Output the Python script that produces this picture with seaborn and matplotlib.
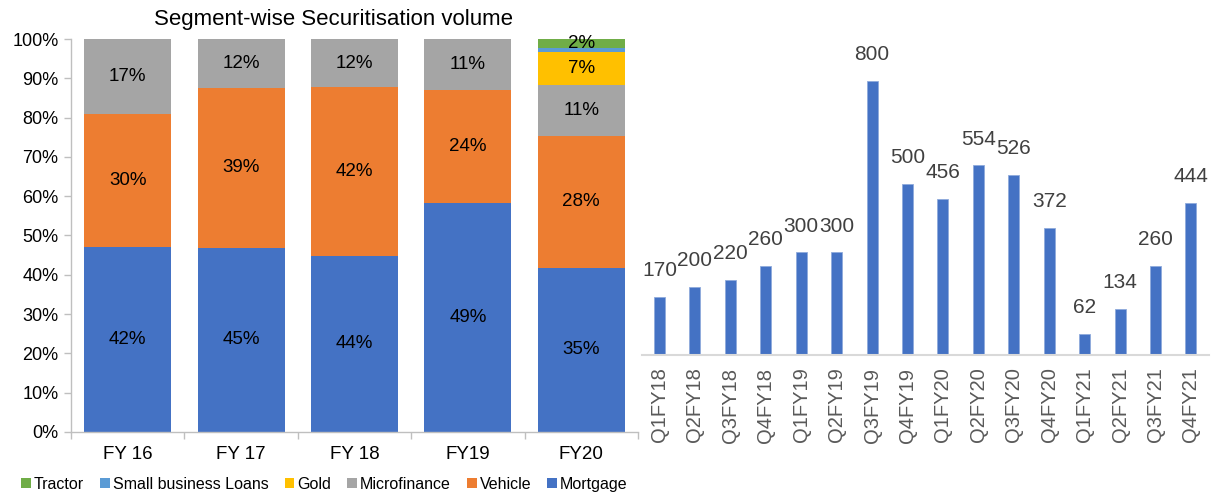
import numpy as np
import matplotlib
matplotlib.use('Agg')
import matplotlib.pyplot as plt
from matplotlib.patches import Patch
import pandas as pd
import seaborn as sns

# left chart data (segment share labels, % of volume)
years = ['FY 16', 'FY 17', 'FY 18', 'FY19', 'FY20']
mortgage = [42, 45, 44, 49, 35]
vehicle = [30, 39, 42, 24, 28]
microfinance = [17, 12, 12, 11, 11]
gold = [0, 0, 0, 0, 7]
small_business = [0, 0, 0, 0, 0.7]
tractor = [0, 0, 0, 0, 2]

# right chart data (securitisation volume per quarter)
quarters = ['Q1FY18', 'Q2FY18', 'Q3FY18', 'Q4FY18', 'Q1FY19', 'Q2FY19', 'Q3FY19', 'Q4FY19',
            'Q1FY20', 'Q2FY20', 'Q3FY20', 'Q4FY20', 'Q1FY21', 'Q2FY21', 'Q3FY21', 'Q4FY21']
volumes = [170, 200, 220, 260, 300, 300, 800, 500, 456, 554, 526, 372, 62, 134, 260, 444]

sns.set_theme(style='white')
plt.rcParams['font.family'] = ['Liberation Sans', 'DejaVu Sans']

segments = ['Mortgage', 'Vehicle', 'Microfinance', 'Gold', 'Small business Loans', 'Tractor']
colors = ['#4472C4', '#ED7D31', '#A5A5A5', '#FFC000', '#5B9BD5', '#70AD47']
df = pd.DataFrame({'Mortgage': mortgage, 'Vehicle': vehicle, 'Microfinance': microfinance,
                   'Gold': gold, 'Small business Loans': small_business, 'Tractor': tractor},
                  index=years)
share = df.div(df.sum(axis=1), axis=0) * 100
cum = share.cumsum(axis=1)

fig = plt.figure(figsize=(12.11, 4.95), dpi=100)
ax1 = fig.add_axes([0.0586, 0.1273, 0.4682, 0.7939])
ax2 = fig.add_axes([0.530, 0.2828, 0.468, 0.637])

# stacked 100% bars: draw cumulative heights from the top layer down
for seg, col in reversed(list(zip(segments, colors))):
    sns.barplot(x=years, y=cum[seg].values, color=col, saturation=1, width=0.767,
                ax=ax1, edgecolor='none', linewidth=0)

for i, yr in enumerate(years):
    for seg in segments:
        v = df.loc[yr, seg]
        if v < 1:
            continue
        mid = cum.loc[yr, seg] - share.loc[yr, seg] / 2
        ax1.text(i, mid, f'{v:.0f}%', ha='center', va='center', fontsize=13.5, color='#000000')

ax1.set_ylim(0, 100)
ax1.set_xlim(-0.5, 4.5)
ax1.set_yticks(np.arange(0, 101, 10))
ax1.set_yticklabels([f'{t}%' for t in range(0, 101, 10)], fontsize=13, color='#000000')
ax1.set_xticks(range(len(years)))
ax1.set_xticklabels(years, fontsize=13.5, color='#000000')
ax1.set_xticks(np.arange(-0.5, 5, 1), minor=True)
ax1.tick_params(axis='x', which='major', length=0, pad=10)
ax1.tick_params(axis='x', which='minor', length=5, color='#BFBFBF', width=1, direction='out', bottom=True)
ax1.tick_params(axis='y', length=5, color='#BFBFBF', width=1, direction='out', left=True, pad=4)
for s in ['top', 'right']:
    ax1.spines[s].set_visible(False)
for s in ['left', 'bottom']:
    ax1.spines[s].set_color('#BFBFBF')
    ax1.spines[s].set_linewidth(1)
ax1.set_xlabel('')
ax1.set_ylabel('')

fig.text(333 / 1211, 1 - 20 / 495, 'Segment-wise Securitisation volume', ha='center',
         va='center', fontsize=16, color='#000000')

handles = [Patch(facecolor=c, edgecolor='none') for c in colors][::-1]
fig.legend(handles, segments[::-1], loc='center', bbox_to_anchor=(0.268, 0.022), ncol=6,
           frameon=False, fontsize=11.5, handlelength=0.6, handleheight=0.6,
           handletextpad=0.2, columnspacing=1.0, labelcolor='#000000')

# right chart
sns.barplot(x=quarters, y=volumes, color='#4472C4', saturation=1, width=0.31, ax=ax2,
            edgecolor='#8FAADC', linewidth=0.6)
ax2.bar_label(ax2.containers[0], labels=[str(v) for v in volumes], padding=12,
              fontsize=15, color='#404040')
ax2.set_xlim(-0.5, 15.5)
ax2.set_ylim(0, 921)
ax2.set_yticks([])
ax2.tick_params(axis='x', length=0, pad=9)
ax2.set_xticks(range(len(quarters)))
ax2.set_xticklabels(quarters, rotation=90, fontsize=14.5, color='#595959')
for s in ['top', 'right', 'left']:
    ax2.spines[s].set_visible(False)
ax2.spines['bottom'].set_color('#D9D9D9')
ax2.spines['bottom'].set_linewidth(1.5)
ax2.set_xlabel('')
ax2.set_ylabel('')

fig.savefig('out.png', dpi=100)
